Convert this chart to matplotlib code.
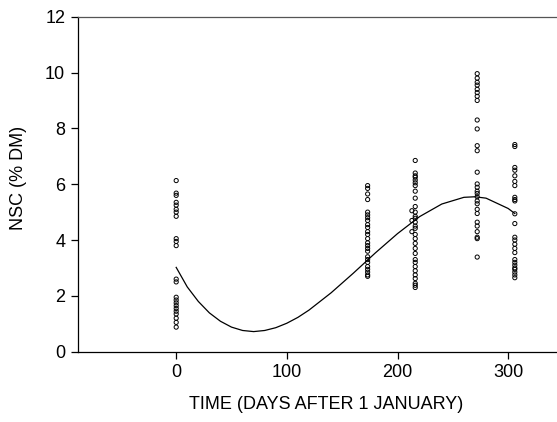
import numpy as np
import matplotlib
matplotlib.use("Agg")
import matplotlib.pyplot as plt

plt.rcParams['font.family'] = ['Liberation Sans', 'DejaVu Sans']

# NSC (% DM) samples per sampling date (days after 1 January)
day_0 = [6.13, 5.68, 5.6, 5.35, 5.25, 5.1, 5.0, 4.85, 4.05, 3.95, 3.8,
         2.6, 2.5, 1.95, 1.85, 1.75, 1.65, 1.55, 1.45, 1.35, 1.2, 1.05, 0.88]
day_173 = [5.95, 5.85, 5.65, 5.45, 5.0, 4.9, 4.8, 4.7, 4.55, 4.45, 4.3, 4.2,
           4.05, 3.9, 3.8, 3.7, 3.6, 3.4, 3.3, 3.2, 3.05, 2.95, 2.85, 2.75, 2.7]
day_216 = [6.85, 6.4, 6.3, 6.25, 6.15, 6.05, 5.95, 5.75, 5.5, 5.2, 5.0, 4.85,
           4.78, 4.64, 4.5, 4.42, 4.2, 4.05, 3.88, 3.7, 3.52, 3.3, 3.2, 3.05,
           2.9, 2.75, 2.62, 2.45, 2.38, 2.3]
day_216_off = [5.05, 4.7, 4.3]   # slightly offset points near day 216
day_272 = [9.96, 9.8, 9.65, 9.55, 9.4, 9.28, 9.15, 9.0, 8.3, 7.98, 7.38, 7.2,
           6.43, 6.01, 5.89, 5.75, 5.67, 5.55, 5.4, 5.3, 5.1, 4.95, 4.64,
           4.5, 4.3, 4.1, 4.05, 3.39]
day_306 = [7.42, 7.35, 6.6, 6.5, 6.3, 6.1, 5.95, 5.53, 5.45, 5.4, 4.94, 4.59,
           4.1, 4.0, 3.85, 3.7, 3.55, 3.3, 3.2, 3.1, 3.0, 2.95, 2.85, 2.75, 2.65]

# fitted curve
curve_day = [0, 10, 20, 30, 40, 50, 60, 70, 80, 90, 100, 110, 120, 140, 160,
             180, 200, 220, 240, 260, 270, 280, 300, 306]
curve_nsc = [3.02, 2.32, 1.80, 1.39, 1.09, 0.88, 0.76, 0.72, 0.76, 0.86, 1.02,
             1.23, 1.49, 2.11, 2.81, 3.54, 4.23, 4.84, 5.29, 5.53, 5.55, 5.50,
             5.13, 4.95]

fig = plt.figure(figsize=(5.57, 4.22), dpi=100)
ax = fig.add_axes([0.1395, 0.1666, 0.8722, 0.7938])

groups = [(0, day_0), (173, day_173), (216, day_216), (213, day_216_off),
          (272, day_272), (306, day_306)]
for d, vals in groups:
    ax.scatter([d] * len(vals), vals, s=9, facecolors='none',
               edgecolors='black', linewidths=0.7, zorder=3)

ax.plot(curve_day, curve_nsc, color='black', lw=0.9)

ax.set_xlim(-89, 350)
ax.set_ylim(0, 12)
ax.set_xticks([0, 100, 200, 300])
ax.set_yticks([0, 2, 4, 6, 8, 10, 12])
ax.spines['right'].set_visible(False)
for s in ['left', 'bottom', 'top']:
    ax.spines[s].set_linewidth(0.9)
ax.spines['top'].set_color('#555555')
ax.tick_params(direction='out', length=5, width=0.9, labelsize=13, pad=4)

ax.set_xlabel('TIME (DAYS AFTER 1 JANUARY)', fontsize=13)
ax.set_ylabel('NSC (% DM)', fontsize=13)
ax.xaxis.set_label_coords(0.511, -0.132)
ax.yaxis.set_label_coords(-0.104, 0.52)

fig.savefig('out.png', dpi=100)
